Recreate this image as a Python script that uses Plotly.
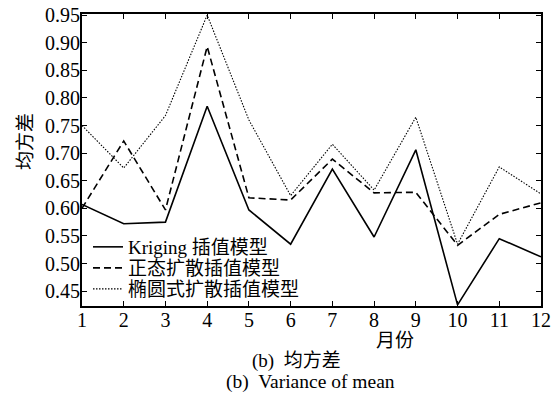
import plotly.graph_objects as go

months = list(range(1, 13))
kriging = [0.607, 0.572, 0.575, 0.785, 0.597, 0.535, 0.671, 0.548, 0.706, 0.425, 0.545, 0.512]
normal = [0.600, 0.722, 0.597, 0.893, 0.619, 0.615, 0.689, 0.628, 0.629, 0.533, 0.589, 0.610]
ellipse = [0.750, 0.673, 0.768, 0.950, 0.760, 0.623, 0.716, 0.633, 0.765, 0.535, 0.675, 0.626]
names = ["Kriging 插值模型", "正态扩散插值模型", "椭圆式扩散插值模型"]
x_ticks = list(range(1, 13))
y_ticks = [0.45, 0.50, 0.55, 0.60, 0.65, 0.70, 0.75, 0.80, 0.85, 0.90, 0.95]

font_main = "Liberation Serif, Noto Serif CJK SC, Noto Sans CJK SC, serif"
font_cjk = "Liberation Serif, Noto Sans CJK SC, serif"

W, H = 557, 394
L, R, T, B = 82, 16, 14, 88

fig = go.Figure()
fig.add_trace(go.Scatter(x=months, y=kriging, mode="lines", name=names[0], legend="legend",
                         line=dict(color="black", width=1.6, dash="solid")))
fig.add_trace(go.Scatter(x=months, y=normal, mode="lines", name=names[1], legend="legend2",
                         line=dict(color="black", width=1.6, dash="7px,4px")))
fig.add_trace(go.Scatter(x=months, y=ellipse, mode="lines", name=names[2], legend="legend3",
                         line=dict(color="black", width=1.1, dash="1.5px,1.5px")))

pw, ph = W - L - R, H - T - B
def px(xp):
    return (xp - L) / pw
def py(yp):
    return (H - B - yp) / ph

leg_common = dict(xanchor="left", yanchor="middle", bgcolor="rgba(0,0,0,0)",
                  font=dict(size=19, family=font_cjk), itemwidth=30,
                  borderwidth=0)

fig.update_layout(
    width=W, height=H,
    margin=dict(l=L, r=R, t=T, b=B, autoexpand=False),
    paper_bgcolor="white", plot_bgcolor="white",
    font=dict(family=font_main, size=20, color="black"),
    showlegend=True,
    legend=dict(x=px(88), y=py(247), **leg_common),
    legend2=dict(x=px(88), y=py(268), **leg_common),
    legend3=dict(x=px(88), y=py(289), **leg_common),
    xaxis=dict(range=[1, 12], tickvals=x_ticks, ticks="inside", ticklen=5,
               showgrid=False, zeroline=False, showline=True, linecolor="black",
               linewidth=2, mirror="ticks", tickcolor="black",
               ticklabelstandoff=-5,
               tickfont=dict(size=20, family=font_main)),
    yaxis=dict(range=[0.423, 0.952], tickvals=y_ticks,
               ticktext=[f"{v:.2f}" for v in y_ticks],
               ticks="inside", ticklen=5,
               showgrid=False, zeroline=False, showline=True, linecolor="black",
               linewidth=2, mirror="ticks", tickcolor="black",
               ticklabelstandoff=-4,
               tickfont=dict(size=20, family=font_main)),
)

ann_common = dict(xref="paper", yref="paper", showarrow=False,
                  xanchor="center", yanchor="middle", borderpad=0)
fig.add_annotation(text="均方差", x=px(25), y=py(142), textangle=-90,
                   font=dict(size=19, family=font_cjk), **ann_common)
fig.add_annotation(text="月份", x=px(395), y=py(340),
                   font=dict(size=19, family=font_cjk), **ann_common)
fig.add_annotation(text="(b)  均方差", x=px(296), y=py(360.5),
                   font=dict(size=19, family=font_cjk), **ann_common)
fig.add_annotation(text="(b)  Variance of mean", x=px(310), y=py(382),
                   font=dict(size=19.5, family=font_main), **ann_common)

fig.write_html(
    "out.html",
    config={"displayModeBar": False},
    post_script="document.body.style.margin='0';document.body.style.padding='0';"
                "document.documentElement.style.overflow='hidden';",
)
